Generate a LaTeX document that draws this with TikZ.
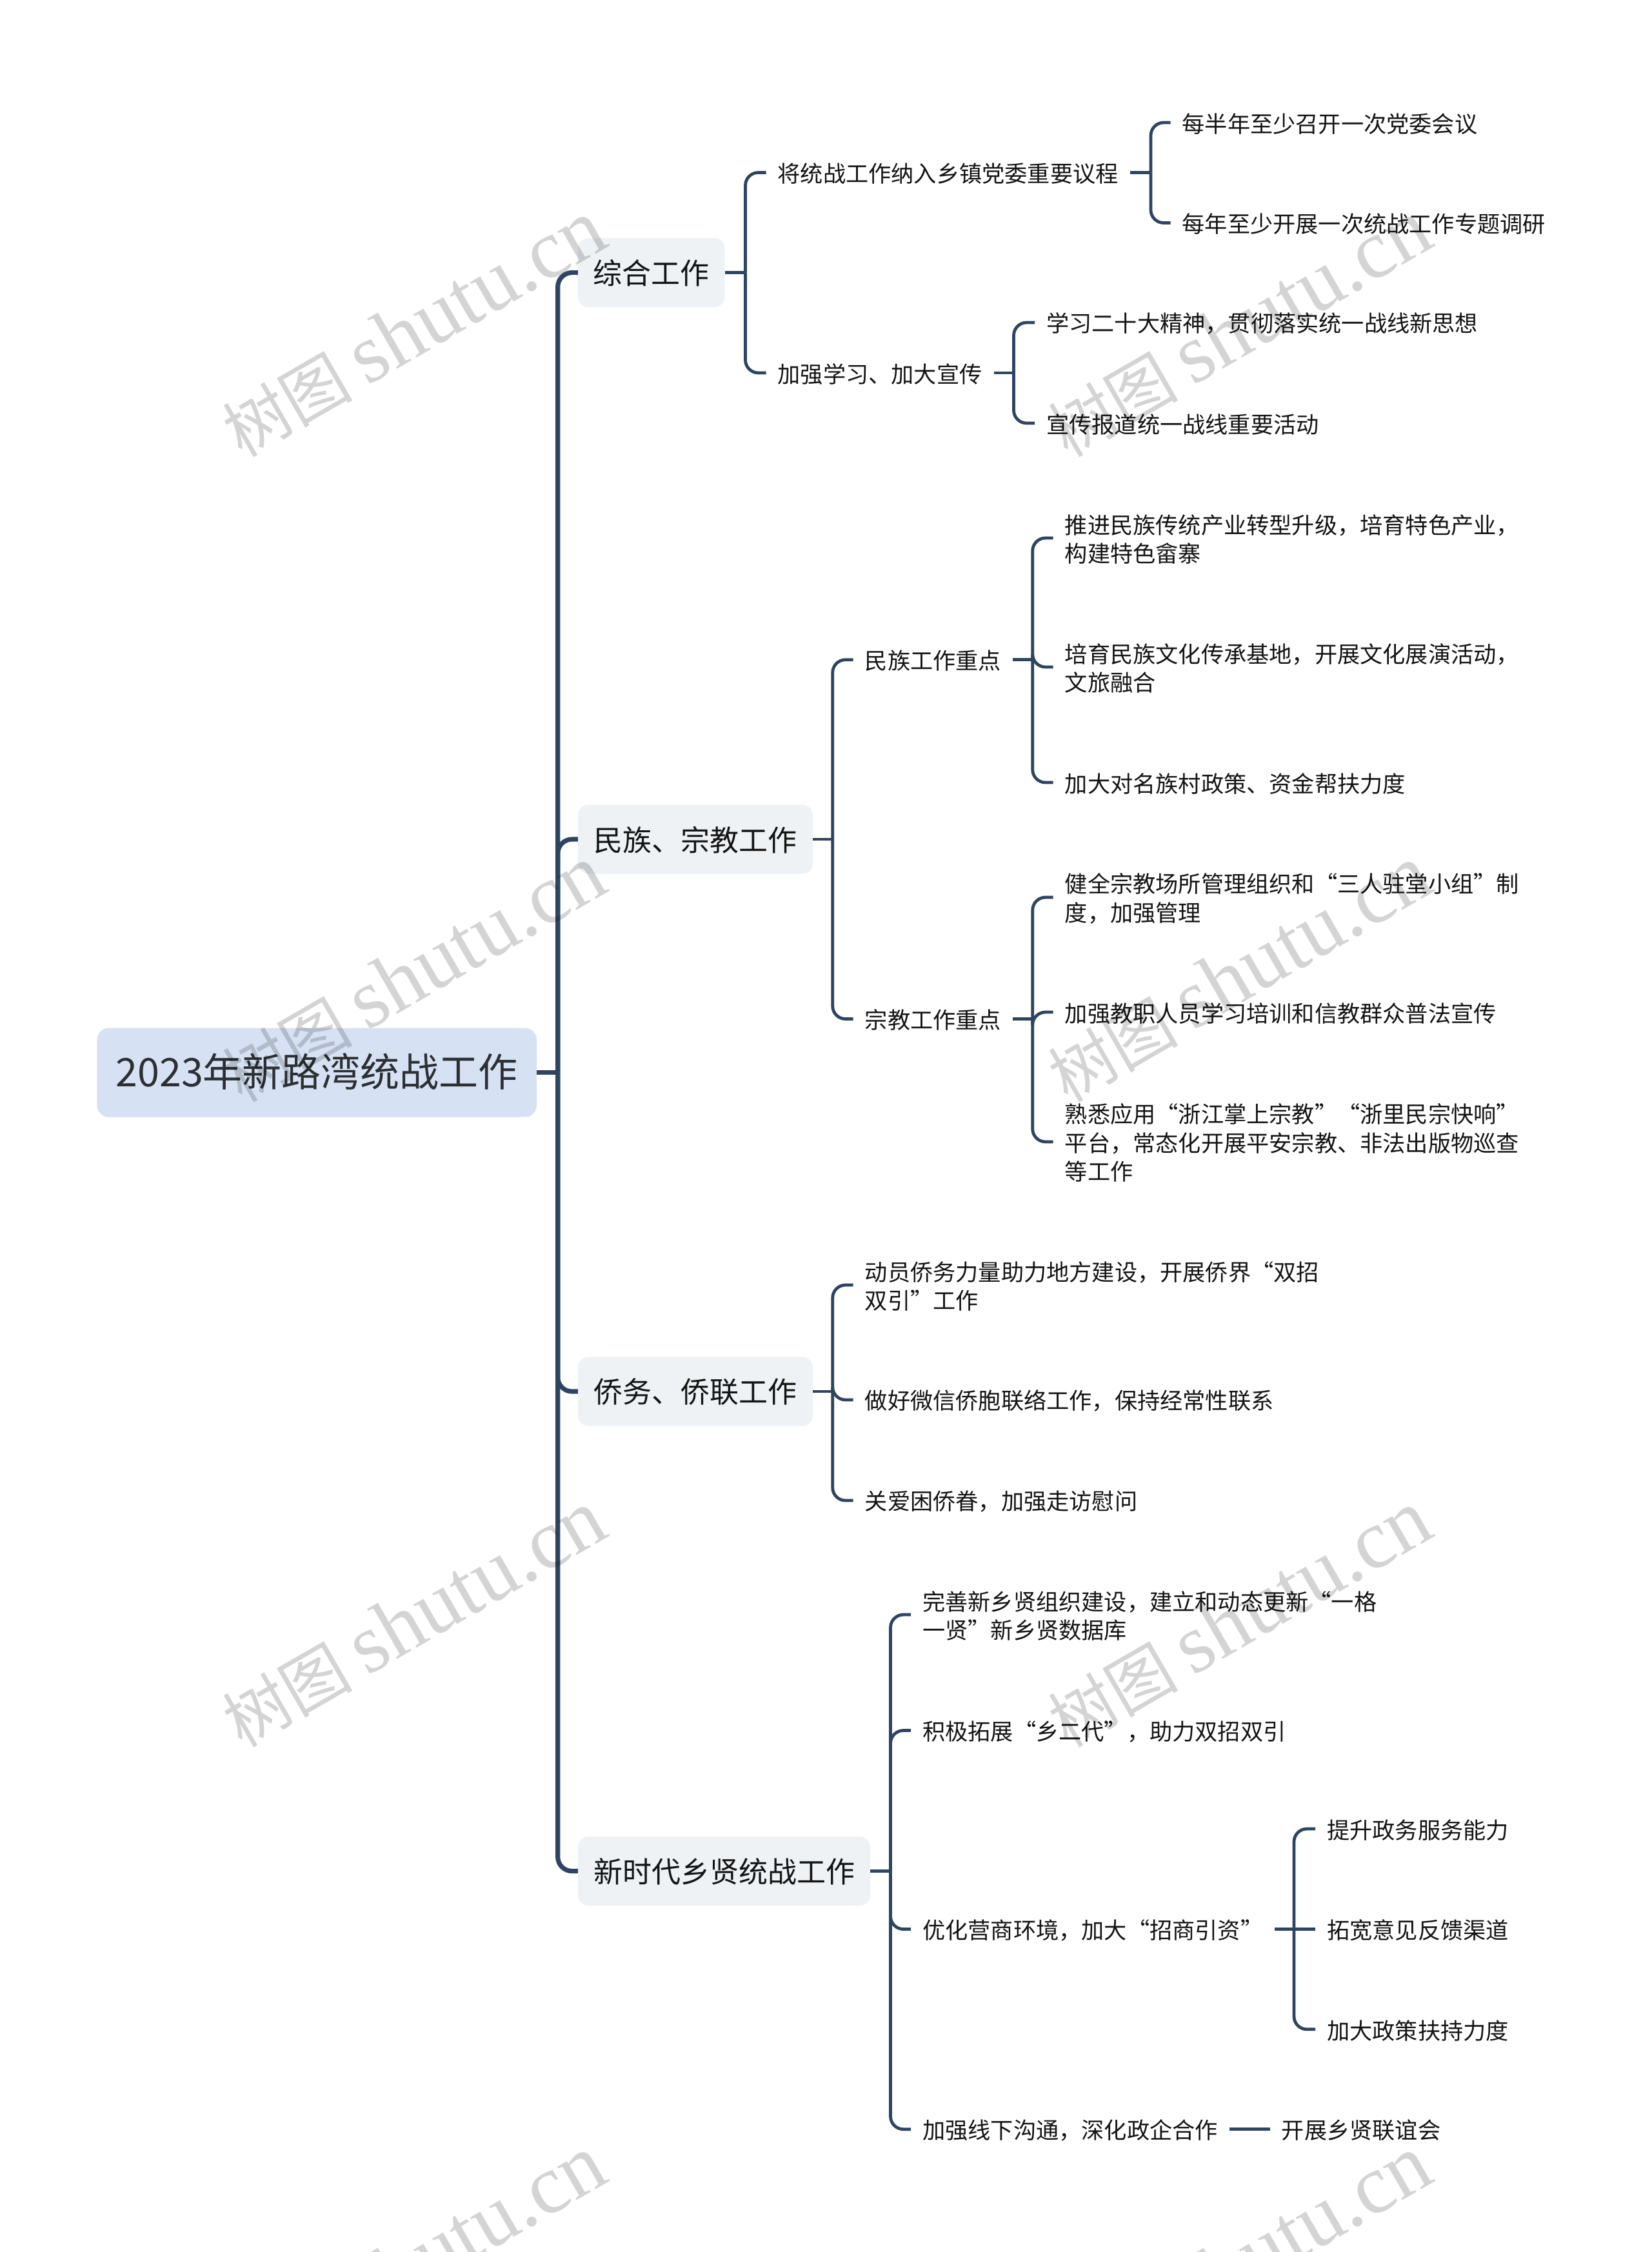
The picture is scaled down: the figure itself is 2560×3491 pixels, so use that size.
\documentclass[tikz,border=0pt]{standalone}
\usepackage{fontspec}
\setmainfont{Noto Sans CJK SC}
\newfontfamily\wmlatin{Liberation Serif}
\definecolor{linec}{HTML}{2F4460}
\definecolor{rootfill}{HTML}{D6E2F4}
\definecolor{mainfill}{HTML}{EEF2F5}
\definecolor{inkc}{HTML}{141414}
\definecolor{rootink}{HTML}{2C2F33}
\tikzset{
  rootbox/.style={fill=rootfill,rounded corners=18pt,inner sep=0pt,minimum width=681.5pt,minimum height=138pt,text=rootink,font=\fontsize{61pt}{74pt}\selectfont},
  mainbox/.style={fill=mainfill,rounded corners=16pt,inner sep=0pt,minimum height=107pt,text=inkc,font=\fontsize{45pt}{54pt}\selectfont},
  leaf/.style={anchor=west,inner xsep=18pt,inner ysep=0pt,align=left,text=inkc,font=\fontsize{35.2pt}{44.5pt}\selectfont},
  thickline/.style={draw=linec,line width=7.2pt},
  thinline/.style={draw=linec,line width=4.8pt},
  wmark/.style={rotate=30,text=black,text opacity=0.17,font=\fontsize{101pt}{120pt}\selectfont},
}
% lowers a line of text inside its node, keeping the node's own size
\newcommand\dn[1]{\raisebox{-1.8pt}[\height][\depth]{#1}}
\newcommand\dnn[1]{\raisebox{-1pt}[\height][\depth]{#1}}
\newcommand\upp[1]{\raisebox{1.5pt}[\height][\depth]{#1}}
% stub from a parent to its bus
\newcommand\stubline[3]{\draw[#1] (#2.east) -- (#2.east -| #3);}
% connector from a parent's point on the bus to a child
\newcommand\kidline[5]{\draw[#1,rounded corners=#5] (#4.west) -- (#4.west -| #3) -- (#2.east -| #3);}
\begin{document}
\begin{tikzpicture}[x=1pt,y=-1pt]
\useasboundingbox (0,0) rectangle (2560,3491);
% bus columns
\coordinate (b0) at (864.7,0);
\coordinate (bA) at (1155.5,0);
\coordinate (bA1) at (1784,0);
\coordinate (bA2) at (1571.5,0);
\coordinate (bB) at (1290.7,0);
\coordinate (bB1) at (1600.7,0);
\coordinate (bB2) at (1600.7,0);
\coordinate (bC) at (1290.7,0);
\coordinate (bD) at (1380.5,0);
\coordinate (bD3) at (2006,0);
% root
\node[rootbox] (root) at (491.2,1662.6) {\upp{2023年新路湾统战工作}};
% level 1
\node[mainbox,minimum width=227.5pt] (A) at (1009.7,422.6) {\dnn{综合工作}};
\node[mainbox,minimum width=364pt] (B) at (1078,1301) {\dnn{民族、宗教工作}};
\node[mainbox,minimum width=364pt] (C) at (1078,2157) {\dnn{侨务、侨联工作}};
\node[mainbox,minimum width=453pt] (D) at (1122.5,2900.5) {\dnn{新时代乡贤统战工作}};
% A
\node[leaf] (A1) at (1187.5,267.5) {\dn{将统战工作纳入乡镇党委重要议程}};
\node[leaf] (A2) at (1187.5,578) {\dn{加强学习、加大宣传}};
\node[leaf] (A11) at (1814.5,190) {\dn{每半年至少召开一次党委会议}};
\node[leaf] (A12) at (1814.5,345.5) {\dn{每年至少开展一次统战工作专题调研}};
\node[leaf] (A21) at (1604,500) {\dn{学习二十大精神，贯彻落实统一战线新思想}};
\node[leaf] (A22) at (1604,656) {\dn{宣传报道统一战线重要活动}};
% B
\node[leaf] (B1) at (1322.7,1022.7) {\dn{民族工作重点}};
\node[leaf] (B2) at (1322.7,1579.5) {\dn{宗教工作重点}};
\node[leaf] (B11) at (1632.7,834) {\dn{推进民族传统产业转型升级，培育特色产业，}\\\dn{构建特色畲寨}};
\node[leaf] (B12) at (1632.7,1034) {\dn{培育民族文化传承基地，开展文化展演活动，}\\\dn{文旅融合}};
\node[leaf] (B13) at (1632.7,1213) {\dn{加大对名族村政策、资金帮扶力度}};
\node[leaf] (B21) at (1632.7,1391) {\dn{健全宗教场所管理组织和“三人驻堂小组”制}\\\dn{度，加强管理}};
\node[leaf] (B22) at (1632.7,1569) {\dn{加强教职人员学习培训和信教群众普法宣传}};
\node[leaf] (B23) at (1632.7,1770) {\dn{熟悉应用“浙江掌上宗教”“浙里民宗快响”}\\\dn{平台，常态化开展平安宗教、非法出版物巡查}\\\dn{等工作}};
% C
\node[leaf] (C1) at (1322.7,1992) {\dn{动员侨务力量助力地方建设，开展侨界“双招}\\\dn{双引”工作}};
\node[leaf] (C2) at (1322.7,2170) {\dn{做好微信侨胞联络工作，保持经常性联系}};
\node[leaf] (C3) at (1322.7,2326) {\dn{关爱困侨眷，加强走访慰问}};
% D
\node[leaf] (D1) at (1412,2503) {\dn{完善新乡贤组织建设，建立和动态更新“一格}\\\dn{一贤”新乡贤数据库}};
\node[leaf] (D2) at (1412,2682.5) {\dn{积极拓展“乡二代”，助力双招双引}};
\node[leaf] (D3) at (1412,2990.5) {\dn{优化营商环境，加大“招商引资”}};
\node[leaf] (D4) at (1412,3300.7) {\dn{加强线下沟通，深化政企合作}};
\node[leaf] (D31) at (2039,2835) {\dn{提升政务服务能力}};
\node[leaf] (D32) at (2039,2990.5) {\dn{拓宽意见反馈渠道}};
\node[leaf] (D33) at (2039,3145.8) {\dn{加大政策扶持力度}};
\node[leaf] (D41) at (1968.6,3300.7) {\dn{开展乡贤联谊会}};
% connectors, level 1
\stubline{thickline}{root}{b0}
\kidline{thickline}{root}{b0}{A}{22pt}
\kidline{thickline}{root}{b0}{B}{22pt}
\kidline{thickline}{root}{b0}{C}{22pt}
\kidline{thickline}{root}{b0}{D}{22pt}
% connectors, A
\stubline{thinline}{A}{bA}
\kidline{thinline}{A}{bA}{A1}{20pt}
\kidline{thinline}{A}{bA}{A2}{20pt}
\stubline{thinline}{A1}{bA1}
\kidline{thinline}{A1}{bA1}{A11}{20pt}
\kidline{thinline}{A1}{bA1}{A12}{20pt}
\stubline{thinline}{A2}{bA2}
\kidline{thinline}{A2}{bA2}{A21}{20pt}
\kidline{thinline}{A2}{bA2}{A22}{20pt}
% connectors, B
\stubline{thinline}{B}{bB}
\kidline{thinline}{B}{bB}{B1}{20pt}
\kidline{thinline}{B}{bB}{B2}{20pt}
\stubline{thinline}{B1}{bB1}
\kidline{thinline}{B1}{bB1}{B11}{20pt}
\kidline{thinline}{B1}{bB1}{B12}{20pt}
\kidline{thinline}{B1}{bB1}{B13}{20pt}
\stubline{thinline}{B2}{bB2}
\kidline{thinline}{B2}{bB2}{B21}{20pt}
\kidline{thinline}{B2}{bB2}{B22}{20pt}
\kidline{thinline}{B2}{bB2}{B23}{20pt}
% connectors, C
\stubline{thinline}{C}{bC}
\kidline{thinline}{C}{bC}{C1}{20pt}
\kidline{thinline}{C}{bC}{C2}{20pt}
\kidline{thinline}{C}{bC}{C3}{20pt}
% connectors, D
\stubline{thinline}{D}{bD}
\kidline{thinline}{D}{bD}{D1}{20pt}
\kidline{thinline}{D}{bD}{D2}{20pt}
\kidline{thinline}{D}{bD}{D3}{20pt}
\kidline{thinline}{D}{bD}{D4}{20pt}
\stubline{thinline}{D3}{bD3}
\kidline{thinline}{D3}{bD3}{D31}{20pt}
\draw[thinline] (D3.east) -- (D32.west);
\kidline{thinline}{D3}{bD3}{D33}{20pt}
\draw[thinline] (D4.east) -- (D41.west);
% watermark
\foreach \i/\x in {1/641,2/1921}{
  \foreach \j/\y in {1/510,2/1510,3/2510,4/3510}{
    \node[wmark] (wm\i\j) at (\x,\y) {树图 {\wmlatin\fontsize{130pt}{130pt}\selectfont shutu.cn}};
  }
}
\end{tikzpicture}
\end{document}
